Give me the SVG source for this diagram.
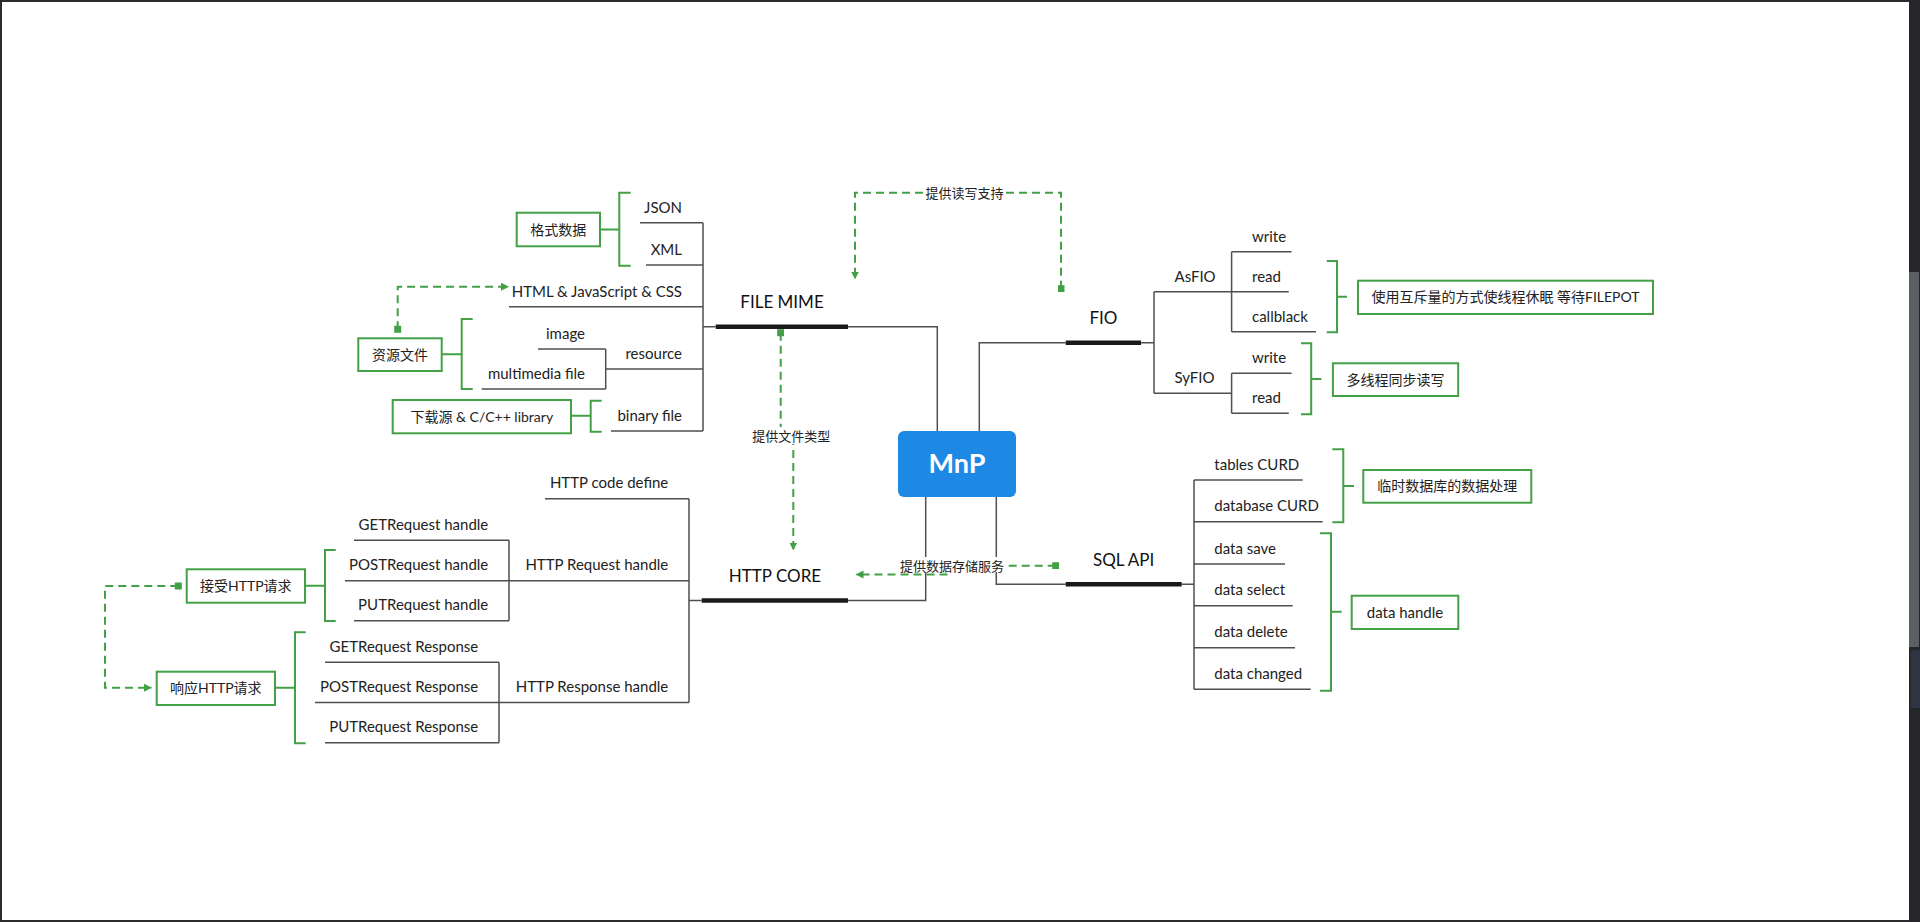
<svg xmlns="http://www.w3.org/2000/svg" width="1920" height="922" viewBox="0 0 1920 922">
<defs>
<style>
.ln{stroke:#4f4f4f;stroke-width:1.5;fill:none}
.bar{stroke:#1a1a1a;stroke-width:4.5;fill:none}
.t{font-family:Lato,"Noto Sans CJK SC",sans-serif;font-size:15px;fill:#222}
.e{text-anchor:end}
.m{font-size:17px;text-anchor:middle;fill:#111}
.box{fill:#fff;stroke:#43a047;stroke-width:2}
.bt{font-size:14px;text-anchor:middle}
.brk{stroke:#43a047;stroke-width:2;fill:none}
.rel{stroke:#43a047;stroke-width:2;fill:none;stroke-dasharray:8 5;marker-start:url(#sq);marker-end:url(#ar)}
.lbl{font-size:13px;text-anchor:middle}
.lbg{fill:#fff}
</style>
<marker id="ar" markerUnits="userSpaceOnUse" markerWidth="9" markerHeight="9" refX="7.5" refY="4" orient="auto"><path d="M0,0 L8,4 L0,8 z" fill="#43a047"/></marker>
<marker id="sq" markerUnits="userSpaceOnUse" markerWidth="8" markerHeight="8" refX="3.5" refY="3.5" orient="auto"><rect x="0" y="0" width="7" height="7" fill="#43a047"/></marker>
</defs>
<rect x="0" y="0" width="1920" height="922" fill="#ffffff"/>

<g id="connectors">
<!-- FILE MIME tree -->
<path class="ln" d="M848,326.7 H937.3 V431"/>
<path class="ln" d="M703,222.7 V431 M703,326.7 H715.7"/>
<path class="ln" d="M605.7,349 V389"/>
<!-- HTTP CORE tree -->
<path class="ln" d="M925.7,497 V600.5 H848"/>
<path class="ln" d="M689,498.7 V702.5 M689,600.5 H701.7"/>
<path class="ln" d="M509,540.3 V620.7 M499,662.3 V742.7"/>
<!-- FIO tree -->
<path class="ln" d="M979.3,431 V342.7 H1065.7"/>
<path class="ln" d="M1141,342.7 H1154 M1154,291.7 V393.3"/>
<path class="ln" d="M1231.6,251.7 V331.7 M1231.6,373.3 V413.3"/>
<!-- SQL API tree -->
<path class="ln" d="M996.3,497 V584.3 H1065.7"/>
<path class="ln" d="M1181.7,584.3 H1194 M1194,480 V689.3"/>
<!-- brackets -->
<path class="brk" d="M630.7,192.7 H619.3 V265.7 H630.7 M600,229.5 H619.3"/>
<path class="brk" d="M472.7,319 H461.7 V389 H472.7 M441.7,354.3 H461.7"/>
<path class="brk" d="M601.7,400.7 H590.7 V431.7 H601.7 M571,415.7 H590.7"/>
<path class="brk" d="M335.7,550 H325 V621 H335.7 M305,585.7 H325"/>
<path class="brk" d="M305.7,632.3 H295 V743.3 H305.7 M275,687.7 H295"/>
<path class="brk" d="M1326.7,261 H1337 V332.3 H1326.7 M1337,296.7 H1347"/>
<path class="brk" d="M1301,343.3 H1311.2 V414.3 H1301 M1311.2,379 H1321.4"/>
<path class="brk" d="M1332.3,449.3 H1343.3 V522.3 H1332.3 M1343.3,486 H1354"/>
<path class="brk" d="M1320,533.3 H1331 V690.7 H1320 M1331,611.7 H1341.7"/>
<!-- relationships -->
<g id="rel-rw">
<path class="rel" d="M1061,288.7 V192.7 H855 V279"/>
<rect class="lbg" x="925" y="185" width="79" height="15"/>
<text class="t lbl" x="964.5" y="197.5">提供读写支持</text>
</g>
<g id="rel-type">
<path class="rel" d="M780.7,332.7 V436 H793.3 V550"/>
<rect class="lbg" x="752" y="427" width="79" height="17"/>
<text class="t lbl" x="791.3" y="441">提供文件类型</text>
</g>
<g id="rel-store">
<path class="rel" d="M1055.7,565.7 H950 V574.5 H856"/>
<rect class="lbg" x="900" y="557" width="104" height="15"/>
<text class="t lbl" x="952" y="570.5">提供数据存储服务</text>
</g>
<path class="rel" d="M397.7,329.3 V286.7 H508.5"/>
<path class="rel" d="M178.3,586 H105 V687.7 H151.5"/>
</g>

<g id="n-mnp">
<rect x="898" y="431" width="118" height="66" rx="6" fill="#1e88e5"/>
<text class="t" x="957" y="473" text-anchor="middle" style="fill:#fff;font-size:27px;font-weight:bold">MnP</text>
</g>

<g id="n-filemime">
<line class="bar" x1="715.7" y1="326.7" x2="848" y2="326.7"/>
<text class="t m" x="782" y="308">FILE MIME</text>
</g>
<g id="n-json"><line class="ln" x1="640" y1="222.7" x2="703" y2="222.7"/><text class="t e" x="682" y="212.5">JSON</text></g>
<g id="n-xml"><line class="ln" x1="646" y1="265" x2="703" y2="265"/><text class="t e" x="682" y="254.5">XML</text></g>
<g id="n-html"><line class="ln" x1="509" y1="306.7" x2="703" y2="306.7"/><text class="t e" x="682" y="296.5">HTML &amp; JavaScript &amp; CSS</text></g>
<g id="n-resource"><line class="ln" x1="605.7" y1="369" x2="703" y2="369"/><text class="t e" x="682" y="358.5">resource</text></g>
<g id="n-image"><line class="ln" x1="538" y1="349" x2="605.7" y2="349"/><text class="t e" x="585" y="338.5">image</text></g>
<g id="n-multimedia"><line class="ln" x1="481.7" y1="389" x2="605.7" y2="389"/><text class="t e" x="585" y="378.5">multimedia file</text></g>
<g id="n-binary"><line class="ln" x1="611" y1="431" x2="703" y2="431"/><text class="t e" x="682" y="420.5">binary file</text></g>

<g id="n-httpcore">
<line class="bar" x1="701.7" y1="600.5" x2="848" y2="600.5"/>
<text class="t m" x="775" y="582">HTTP CORE</text>
</g>
<g id="n-codedef"><line class="ln" x1="545" y1="498.7" x2="689" y2="498.7"/><text class="t e" x="668.3" y="488">HTTP code define</text></g>
<g id="n-reqhandle"><line class="ln" x1="509" y1="580.7" x2="689" y2="580.7"/><text class="t e" x="668.3" y="570">HTTP Request handle</text></g>
<g id="n-getreq"><line class="ln" x1="354" y1="540.3" x2="509" y2="540.3"/><text class="t e" x="488.3" y="530">GETRequest handle</text></g>
<g id="n-postreq"><line class="ln" x1="345" y1="580.7" x2="509" y2="580.7"/><text class="t e" x="488.3" y="570">POSTRequest handle</text></g>
<g id="n-putreq"><line class="ln" x1="354" y1="620.7" x2="509" y2="620.7"/><text class="t e" x="488.3" y="610">PUTRequest handle</text></g>
<g id="n-resphandle"><line class="ln" x1="499" y1="702.5" x2="689" y2="702.5"/><text class="t e" x="668.3" y="692">HTTP Response handle</text></g>
<g id="n-getresp"><line class="ln" x1="325" y1="662.3" x2="499" y2="662.3"/><text class="t e" x="478.3" y="652">GETRequest Response</text></g>
<g id="n-postresp"><line class="ln" x1="315" y1="702.5" x2="499" y2="702.5"/><text class="t e" x="478.3" y="692">POSTRequest Response</text></g>
<g id="n-putresp"><line class="ln" x1="325" y1="742.7" x2="499" y2="742.7"/><text class="t e" x="478.3" y="732">PUTRequest Response</text></g>

<g id="n-fio">
<line class="bar" x1="1065.7" y1="342.7" x2="1141" y2="342.7"/>
<text class="t m" x="1103.4" y="324">FIO</text>
</g>
<g id="n-asfio"><line class="ln" x1="1154" y1="291.7" x2="1231.6" y2="291.7"/><text class="t" x="1174.5" y="281.5">AsFIO</text></g>
<g id="n-as-write"><line class="ln" x1="1231.6" y1="251.7" x2="1291.6" y2="251.7"/><text class="t" x="1252" y="241.5">write</text></g>
<g id="n-as-read"><line class="ln" x1="1231.6" y1="291.7" x2="1288.8" y2="291.7"/><text class="t" x="1252" y="281.5">read</text></g>
<g id="n-as-cb"><line class="ln" x1="1231.6" y1="331.7" x2="1316" y2="331.7"/><text class="t" x="1252" y="321.5">callblack</text></g>
<g id="n-syfio"><line class="ln" x1="1154" y1="393.3" x2="1231.6" y2="393.3"/><text class="t" x="1174.5" y="383">SyFIO</text></g>
<g id="n-sy-write"><line class="ln" x1="1231.6" y1="373.3" x2="1291.6" y2="373.3"/><text class="t" x="1252" y="363">write</text></g>
<g id="n-sy-read"><line class="ln" x1="1231.6" y1="413.3" x2="1288.8" y2="413.3"/><text class="t" x="1252" y="403">read</text></g>

<g id="n-sqlapi">
<line class="bar" x1="1065.7" y1="584.3" x2="1181.7" y2="584.3"/>
<text class="t m" x="1123.7" y="566">SQL API</text>
</g>
<g id="n-tables"><line class="ln" x1="1194" y1="480" x2="1302.7" y2="480"/><text class="t" x="1214.3" y="469.5">tables CURD</text></g>
<g id="n-database"><line class="ln" x1="1194" y1="521.7" x2="1322.7" y2="521.7"/><text class="t" x="1214.3" y="511">database CURD</text></g>
<g id="n-save"><line class="ln" x1="1194" y1="564" x2="1285" y2="564"/><text class="t" x="1214.3" y="553.5">data save</text></g>
<g id="n-select"><line class="ln" x1="1194" y1="605.7" x2="1292.7" y2="605.7"/><text class="t" x="1214.3" y="595">data select</text></g>
<g id="n-delete"><line class="ln" x1="1194" y1="647.7" x2="1295" y2="647.7"/><text class="t" x="1214.3" y="637">data delete</text></g>
<g id="n-changed"><line class="ln" x1="1194" y1="689.3" x2="1310.7" y2="689.3"/><text class="t" x="1214.3" y="678.8">data changed</text></g>

<g id="b-format"><rect class="box" x="516.7" y="212.7" width="83.3" height="33.6"/><text class="t bt" x="558.3" y="234.5">格式数据</text></g>
<g id="b-resource"><rect class="box" x="358.3" y="338.3" width="83.4" height="32.7"/><text class="t bt" x="400" y="359.5">资源文件</text></g>
<g id="b-download"><rect class="box" x="392.7" y="400" width="178.3" height="33.3"/><text class="t bt" x="481.8" y="421.5">下载源 &amp; C/C++ library</text></g>
<g id="b-accept"><rect class="box" x="186.7" y="569.3" width="118.3" height="33.4"/><text class="t bt" x="245.8" y="591">接受HTTP请求</text></g>
<g id="b-respond"><rect class="box" x="156.7" y="671.7" width="118.3" height="33.3"/><text class="t bt" x="215.8" y="693">响应HTTP请求</text></g>
<g id="b-mutex"><rect class="box" x="1358" y="280.7" width="295" height="33.3"/><text class="t bt" x="1505.5" y="302.3">使用互斥量的方式使线程休眠 等待FILEPOT</text></g>
<g id="b-sync"><rect class="box" x="1332.9" y="363.3" width="125.3" height="32.7"/><text class="t bt" x="1395.5" y="384.7">多线程同步读写</text></g>
<g id="b-tempdb"><rect class="box" x="1363.3" y="470" width="168" height="32.7"/><text class="t bt" x="1447.3" y="491.3">临时数据库的数据处理</text></g>
<g id="b-datahandle"><rect class="box" x="1351.7" y="595.7" width="106.6" height="33.3"/><text class="t bt" x="1405" y="617.5" style="font-size:15px">data handle</text></g>

<g id="frame">
<rect x="0" y="0" width="1920" height="2" fill="#2b2b2b"/>
<rect x="0" y="0" width="2" height="922" fill="#2b2b2b"/>
<rect x="0" y="920" width="1920" height="2" fill="#2b2b2b"/>
<rect x="1909" y="0" width="11" height="922" fill="#252629"/>
<rect x="1909" y="272" width="10" height="375" fill="#5c6066"/>
<rect x="1911" y="650" width="9" height="58" rx="1" fill="#2f3542"/>
</g>
</svg>
